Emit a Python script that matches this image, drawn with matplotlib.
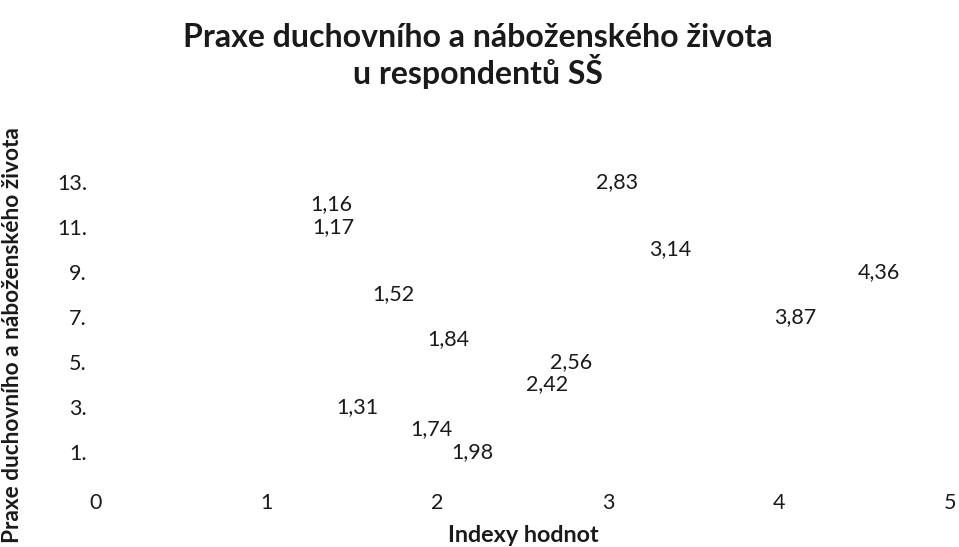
import matplotlib.pyplot as plt

plt.rcParams['font.family'] = ['Lato', 'DejaVu Sans']

# rows of the question block (y) and their index values (x)
items = [1, 2, 3, 4, 5, 6, 7, 8, 9, 10, 11, 12, 13]
indexes = [1.98, 1.74, 1.31, 2.42, 2.56, 1.84, 3.87, 1.52, 4.36, 3.14, 1.17, 1.16, 2.83]
yticks = [1, 3, 5, 7, 9, 11, 13]
ytick_labels = ["1.", "3.", "5.", "7.", "9.", "11.", "13."]

fig = plt.figure(figsize=(9.59, 5.47), dpi=100)
ax = fig.add_axes([0.1001, 0.1325, 0.8905, 0.5759])

# invisible markers, only the data labels are shown
ax.scatter(indexes, items, s=0, alpha=0)
for x, y in zip(indexes, items):
    ax.annotate(f"{x:.2f}".replace(".", ","), (x, y), xytext=(12, 0),
                textcoords="offset points", ha="left", va="center",
                fontsize=15.5, color="#1a1a1a")

ax.set_xlim(0, 5)
ax.set_ylim(0, 14)
ax.set_xticks([0, 1, 2, 3, 4, 5])
ax.set_yticks(yticks)
ax.set_yticklabels(ytick_labels)
ax.tick_params(axis="both", length=0, labelsize=15.5, colors="#1a1a1a")
ax.tick_params(axis="x", pad=13)
ax.tick_params(axis="y", pad=6.5)
for s in ax.spines.values():
    s.set_visible(False)

fig.text(0.4985, 1 - 56 / 547, "Praxe duchovního a náboženského života\nu respondentů SŠ",
         ha="center", va="center", fontsize=23, fontweight="bold",
         color="#1a1a1a", linespacing=1.05)
fig.text(0.5454, 1 - 535 / 547, "Indexy hodnot", ha="center", va="center",
         fontsize=16.8, fontweight="bold", color="#1a1a1a")
fig.text(13 / 959, 1 - 335 / 547, "Praxe duchovního a náboženského života",
         ha="center", va="center", rotation=90, fontsize=16.3,
         fontweight="bold", color="#1a1a1a")

fig.savefig("out.png", dpi=100)
